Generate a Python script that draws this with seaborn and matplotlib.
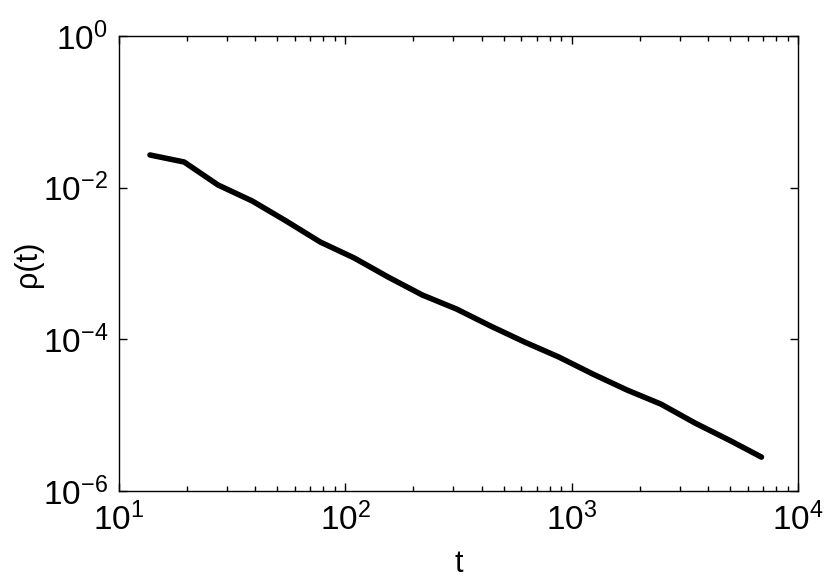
"""log-log decay of rho(t), matlab-ish look"""

import matplotlib as mpl
import matplotlib.pyplot as plt
import pandas as pd
import seaborn as sns
from matplotlib.ticker import LogLocator, NullFormatter

# values
t = [13.7, 19.4, 27.4, 38.8, 54.8, 77.5, 109.6, 155, 219, 310, 438, 620,
     877, 1240, 1754, 2480, 3508, 4960, 6900]
rho = [0.0270, 0.0218, 0.01084, 0.00667, 0.00363, 0.00192, 0.00118, 6.6e-4,
       3.84e-4, 2.51e-4, 1.5e-4, 9.2e-5, 5.85e-5, 3.49e-5, 2.15e-5, 1.40e-5,
       7.88e-6, 4.7e-6, 2.8e-6]

xticks = [1e1, 1e2, 1e3, 1e4]
yticks = [1e-6, 1e-4, 1e-2, 1e0]

sns.set_style("ticks")
plt.rcParams["font.family"] = ["Liberation Sans", "DejaVu Sans"]
plt.rcParams["mathtext.fontset"] = "custom"
plt.rcParams["mathtext.rm"] = "Liberation Sans"
plt.rcParams["mathtext.it"] = "Liberation Sans:italic"
plt.rcParams["axes.unicode_minus"] = True
plt.rcParams["text.color"] = "black"
plt.rcParams["axes.labelcolor"] = "black"
plt.rcParams["xtick.color"] = "black"
plt.rcParams["ytick.color"] = "black"

df = pd.DataFrame({"t": t, "rho": rho})

fig = plt.figure(figsize=(8.3, 5.81), dpi=100)
ax = fig.add_axes([0.1434, 0.1549, 0.8180, 0.7831])

sns.lineplot(data=df, x="t", y="rho", ax=ax, color="black", linewidth=4)

ax.set_xscale("log")
ax.set_yscale("log")
ax.set_xlim(1e1, 1e4)
ax.set_ylim(1e-6, 1e0)
ax.set_xticks(xticks)
ax.set_yticks(yticks)
ax.xaxis.set_minor_locator(LogLocator(base=10, subs=range(2, 10)))
ax.xaxis.set_minor_formatter(NullFormatter())
ax.yaxis.set_minor_locator(mpl.ticker.NullLocator())

ax.tick_params(which="both", direction="in", top=True, right=True,
               labelsize=24, width=1, pad=8, colors="black")
ax.tick_params(which="major", length=6)
ax.tick_params(which="minor", length=3.5)
for s in ax.spines.values():
    s.set_linewidth(1)
    s.set_color("black")

ax.set_xlabel("t", fontsize=22, labelpad=9)
ax.set_ylabel("ρ(t)", fontsize=22, labelpad=0)

plt.savefig("out.png", dpi=100)
